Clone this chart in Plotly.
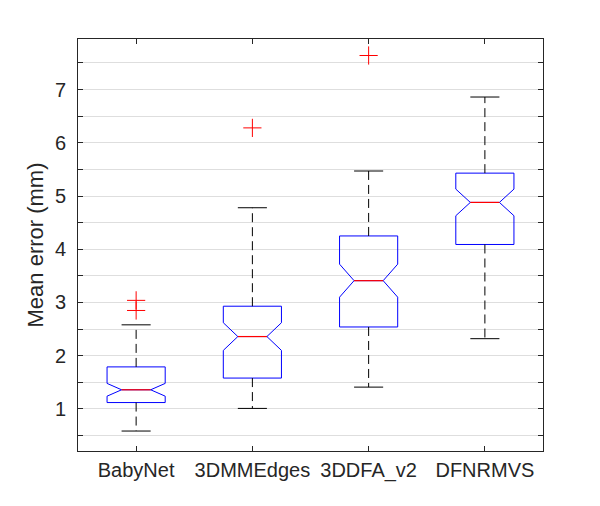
import plotly.graph_objects as go

# (mm)
methods = ['BabyNet', '3DMMEdges', '3DDFA_v2', 'DFNRMVS']
positions = [1, 2, 3, 4]
q1 = [1.12, 1.58, 2.54, 4.09]
median = [1.36, 2.36, 3.41, 4.88]
q3 = [1.79, 2.93, 4.25, 5.43]
lower_whisker = [0.585, 1.01, 1.41, 2.32]
upper_whisker = [2.58, 4.78, 5.47, 6.86]
notch = [0.12, 0.26, 0.31, 0.25]
outliers = [[3.04, 2.85], [6.28], [7.64], []]

y_ticks = [0.5 * k for k in range(1, 16)]
y_ticktext = [str(int(v)) if v == int(v) else '' for v in y_ticks]

box_w = 0.5
cap_half = box_w / 4
axis_col = 'rgb(38,38,38)'

fig = go.Figure()

# Notched boxes (whiskers drawn separately)
fig.add_trace(go.Box(
    x=positions, q1=q1, median=median, q3=q3,
    lowerfence=q1, upperfence=q3,
    notched=True, notchspan=notch, notchwidth=0.25,
    width=box_w, whiskerwidth=0,
    fillcolor='rgba(0,0,0,0)',
    line=dict(color='blue', width=1),
    boxpoints=False, hoverinfo='skip',
))

# Dashed whiskers
wx, wy = [], []
for p, a, b, c, d in zip(positions, q3, upper_whisker, q1, lower_whisker):
    wx += [p, p, None, p, p, None]
    wy += [a, b, None, c, d, None]
fig.add_trace(go.Scatter(x=wx, y=wy, mode='lines',
                         line=dict(color='black', width=1, dash='9px,5px'),
                         hoverinfo='skip'))

# Whisker caps
cx, cy = [], []
for p, b, d in zip(positions, upper_whisker, lower_whisker):
    cx += [p - cap_half, p + cap_half, None, p - cap_half, p + cap_half, None]
    cy += [b, b, None, d, d, None]
fig.add_trace(go.Scatter(x=cx, y=cy, mode='lines',
                         line=dict(color='black', width=1), hoverinfo='skip'))

# Red medians
mx, my = [], []
for p, m in zip(positions, median):
    mx += [p - cap_half, p + cap_half, None]
    my += [m, m, None]
fig.add_trace(go.Scatter(x=mx, y=my, mode='lines',
                         line=dict(color='red', width=1.2), hoverinfo='skip'))

# Outliers
ox, oy = [], []
for p, vals in zip(positions, outliers):
    ox += [p] * len(vals)
    oy += vals
fig.add_trace(go.Scatter(x=ox, y=oy, mode='markers',
                         marker=dict(symbol='cross-thin', size=13, color='red',
                                     line=dict(color='red', width=1)),
                         hoverinfo='skip'))

# page body has an 8px margin, so the margins are shifted to compensate
fig.update_layout(
    width=600, height=506,
    margin=dict(l=70, r=65, t=31, b=63),
    paper_bgcolor='white', plot_bgcolor='white',
    showlegend=False,
    font=dict(family='Liberation Sans, Arial, sans-serif', color=axis_col),
    xaxis=dict(
        range=[0.5, 4.5], tickvals=positions, ticktext=methods,
        ticks='inside', ticklen=5, tickcolor=axis_col,
        showline=True, linecolor=axis_col, linewidth=1, mirror='ticks',
        showgrid=False, zeroline=False, automargin=False,
        tickfont=dict(size=20), ticklabelstandoff=1,
    ),
    yaxis=dict(
        range=[0.21, 7.95], tickvals=y_ticks, ticktext=y_ticktext,
        ticks='inside', ticklen=5, tickcolor=axis_col,
        showline=True, linecolor=axis_col, linewidth=1, mirror='ticks',
        showgrid=True, gridcolor='rgb(222,222,222)', gridwidth=1,
        zeroline=False, automargin=False,
        tickfont=dict(size=20), ticklabelstandoff=7,
        title=dict(text='Mean error (mm)', font=dict(size=22), standoff=5),
    ),
)

fig.write_html('out.html')
